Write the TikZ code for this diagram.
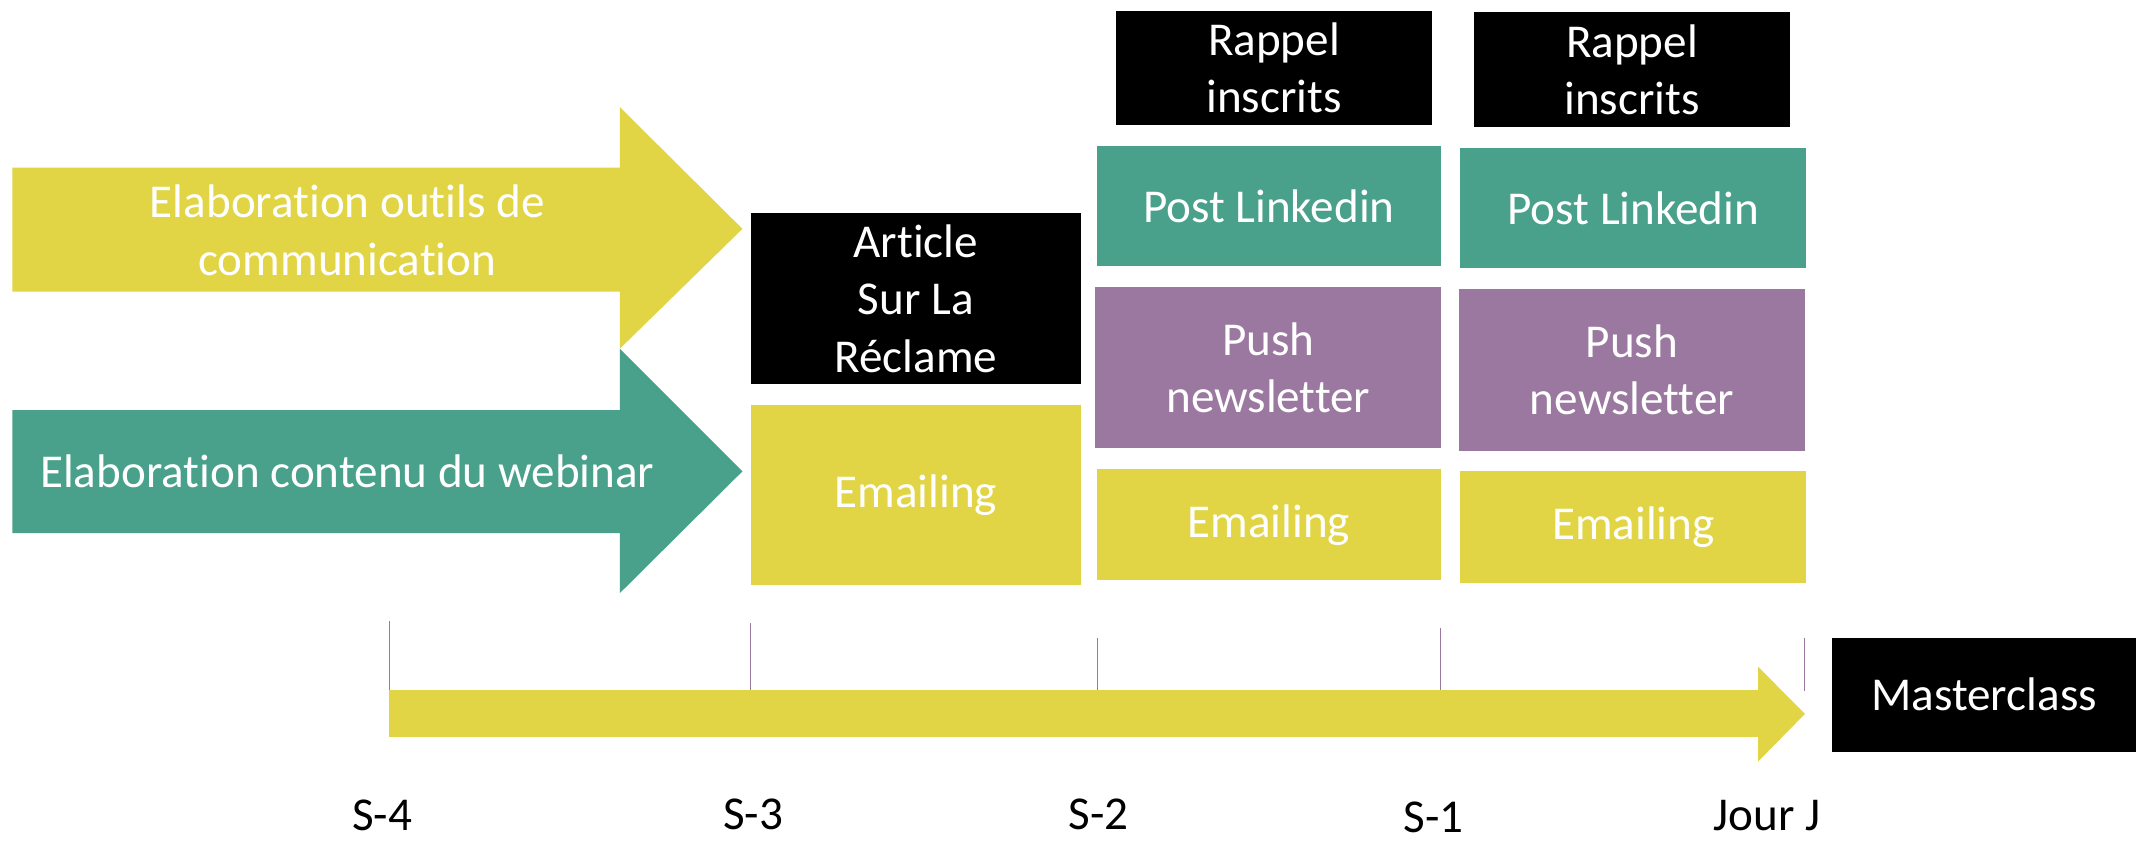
\documentclass[tikz,border=0pt]{standalone}
\usepackage{fontspec}
\setmainfont{Carlito}[RawFeature={-liga;-clig;-calt}]
\definecolor{cyel}{RGB}{225,213,69}
\definecolor{cgrn}{RGB}{73,161,139}
\definecolor{cpur}{RGB}{155,120,160}
\begin{document}
\begin{tikzpicture}[x=0.5pt,y=-0.5pt,
  every node/.style={font=\fontsize{17.3}{21}\selectfont, inner sep=0pt, outer sep=0pt},
  box/.style={fill=#1, text=white, align=center},
  lbl/.style={text=black, anchor=base},
  tick/.style={draw=cpur, line width=0.4pt}]
\useasboundingbox (0,0) rectangle (1568,617);
% ticks
\coordinate (t1) at (285.6,456); \coordinate (b1) at (285.6,507);
\coordinate (t2) at (551,457.5); \coordinate (b2) at (551,507);
\coordinate (t3) at (805.7,468); \coordinate (b3) at (805.7,507);
\coordinate (t4) at (1057.6,461); \coordinate (b4) at (1057.6,507);
\coordinate (t5) at (1324.5,468); \coordinate (b5) at (1324.5,507);
\foreach \i in {1,...,5} \draw[tick] (t\i) -- (b\i);
% phase arrows
\fill[cyel] (9,123) -- (455,123) -- (455,78.6) -- (545,168) -- (455,256) -- (455,214) -- (9,214) -- cycle;
\fill[cgrn] (9,301) -- (455,301) -- (455,256) -- (545,346) -- (455,435.4) -- (455,391.3) -- (9,391.3) -- cycle;
\node[text=white, align=center] (outils) at (255,169) {Elaboration outils de\\communication};
\node[text=white] (contenu) at (255,346) {Elaboration contenu du webinar};
% timeline arrow
\fill[cyel] (285.6,506.6) -- (1290.6,506.6) -- (1290.6,489.5) -- (1325,524) -- (1290.6,559) -- (1290.6,541) -- (285.6,541) -- cycle;
% boxes
\node[box=black, minimum width=121.25pt, minimum height=62.75pt] (article) at (672.25,219.25) {Article\\Sur La\\Réclame};
\node[box=cyel, minimum width=121.25pt, minimum height=66.25pt] (mail3) at (672.25,363.25) {Emailing};
\node[box=black, minimum width=116.25pt, minimum height=42pt] (rappel1) at (935.25,50) {Rappel\\inscrits};
\node[box=cgrn, minimum width=126.5pt, minimum height=44.25pt] (post1) at (931.5,151.25) {Post Linkedin};
\node[box=cpur, minimum width=127pt, minimum height=59pt] (push1) at (931,270) {Push\\newsletter};
\node[box=cyel, minimum width=126.5pt, minimum height=40.75pt] (mail2) at (931.5,385.25) {Emailing};
\node[box=black, minimum width=116pt, minimum height=42pt] (rappel2) at (1198,51) {Rappel\\inscrits};
\node[box=cgrn, minimum width=127pt, minimum height=43.75pt] (post2) at (1199,152.75) {Post Linkedin};
\node[box=cpur, minimum width=127pt, minimum height=59.5pt] (push2) at (1198,271.5) {Push\\newsletter};
\node[box=cyel, minimum width=127pt, minimum height=41pt] (mail1) at (1199,387) {Emailing};
\node[box=black, minimum width=111.5pt, minimum height=42pt] (master) at (1456.5,510) {Masterclass};
% labels
\node[lbl] (s4) at (280.6,610) {S-4};
\node[lbl] (s3) at (553,609) {S-3};
\node[lbl] (s2) at (806.6,609) {S-2};
\node[lbl] (s1) at (1052.5,611) {S-1};
\node[lbl] (jj) at (1297,610) {Jour J};
\end{tikzpicture}
\end{document}
